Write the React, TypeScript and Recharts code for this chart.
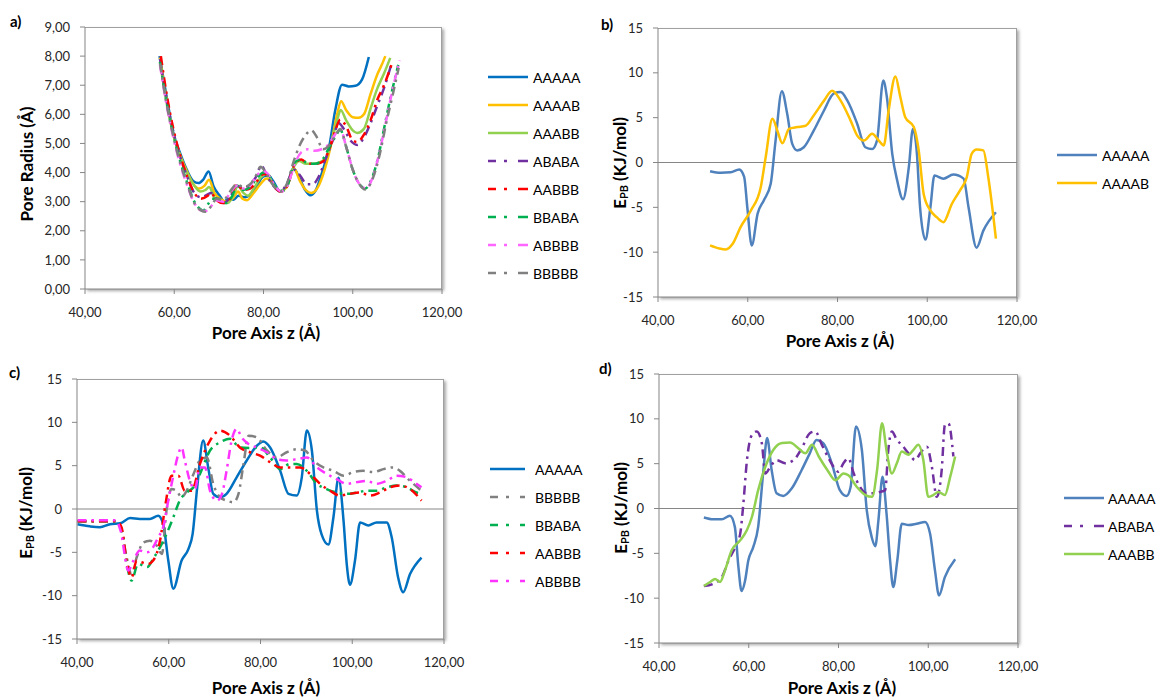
import React from 'react';
import { LineChart, Line, XAxis, YAxis, ReferenceLine } from 'recharts';

type P = [number, number][];

// ---------- tick values ----------
const X_TICKS = [40, 60, 80, 100, 120];
const A_Y_TICKS = [0, 1, 2, 3, 4, 5, 6, 7, 8, 9];
const E_Y_TICKS = [-15, -10, -5, 0, 5, 10, 15];

// ---------- panel a: pore radius ----------
const A_AAAAA: P = [[56.7,8.0],[58.3,6.6],[59.8,5.36],[61.3,4.67],[62.8,4.1],[64.3,3.7],[65.4,3.64],[66.5,3.76],[67.7,4.04],[68.8,3.53],[70.3,3.18],[71.2,3.0],[72.1,3.1],[73.3,3.07],[74.4,3.2],[75.9,3.15],[77.8,3.35],[80.0,3.87],[81.1,3.9],[82.2,3.7],[83.7,3.36],[85.2,3.53],[86.7,4.16],[87.9,3.87],[89.3,3.41],[90.5,3.22],[91.6,3.36],[93.1,3.99],[94.6,4.79],[96.1,6.16],[97.6,7.02],[99.1,6.96],[100.6,6.98],[102.1,7.2],[103.6,7.97]];
const A_AAAAB: P = [[56.8,7.95],[58.3,6.5],[59.8,5.3],[61.3,4.6],[62.8,4.05],[64.3,3.6],[65.6,3.45],[66.8,3.55],[67.8,3.75],[69.0,3.3],[70.3,3.1],[71.8,3.0],[73.3,3.15],[74.3,3.35],[75.3,3.1],[76.3,3.05],[77.8,3.3],[79.3,3.6],[80.7,3.8],[82.2,3.6],[83.7,3.35],[85.2,3.5],[86.8,4.15],[88.2,3.7],[89.5,3.4],[90.7,3.3],[92.2,3.5],[93.7,4.1],[95.2,5.0],[96.5,6.0],[97.4,6.45],[98.5,6.15],[100.0,5.9],[101.3,5.88],[102.5,6.0],[104.0,6.7],[105.5,7.37],[106.5,7.7],[107.3,8.0]];
const A_AAABB: P = [[56.8,7.8],[58.3,6.4],[59.8,5.3],[61.3,4.55],[62.8,4.0],[64.5,3.55],[65.8,3.35],[67.0,3.4],[67.8,3.5],[69.0,3.15],[70.5,3.0],[72.0,2.95],[73.5,3.3],[74.2,3.55],[75.5,3.3],[76.5,3.2],[78.0,3.5],[79.5,3.85],[80.7,3.95],[82.2,3.6],[83.7,3.35],[85.2,3.55],[86.8,4.2],[88.0,4.4],[89.5,4.3],[91.0,4.3],[92.5,4.35],[94.0,4.5],[95.5,5.2],[96.5,5.8],[97.3,6.15],[98.5,5.8],[100.0,5.45],[101.0,5.36],[102.5,5.5],[104.0,6.2],[105.4,6.85],[107.0,7.4],[108.4,7.94]];
const A_ABABA: P = [[56.8,7.9],[58.3,6.5],[59.8,5.4],[61.3,4.55],[62.8,3.9],[64.5,3.3],[66.0,3.15],[67.5,3.25],[68.2,3.3],[69.5,3.1],[71.0,2.95],[72.5,3.15],[74.0,3.55],[75.5,3.45],[77.0,3.6],[78.5,3.9],[79.5,4.25],[80.7,3.9],[82.2,3.55],[83.7,3.35],[85.2,3.6],[86.8,4.1],[88.2,3.9],[89.7,3.6],[91.0,3.6],[92.5,3.9],[94.0,4.5],[95.5,5.1],[96.8,5.7],[98.0,5.5],[99.5,5.1],[101.0,4.95],[102.5,5.2],[104.0,5.7],[105.5,6.3],[107.0,6.9],[108.8,7.8]];
const A_AABBB: P = [[57.0,8.0],[58.4,6.6],[59.8,5.5],[61.3,4.6],[62.8,3.9],[64.5,3.3],[66.0,3.1],[67.5,3.2],[68.2,3.3],[69.5,3.05],[71.0,2.95],[72.5,3.1],[74.0,3.6],[75.5,3.4],[77.0,3.45],[78.5,3.7],[80.0,3.95],[81.0,3.9],[82.5,3.5],[84.0,3.35],[85.5,3.6],[87.0,4.3],[88.5,4.45],[90.0,4.3],[91.5,4.3],[93.0,4.35],[94.5,4.7],[96.0,5.4],[97.2,5.82],[98.5,5.6],[100.0,5.1],[101.0,5.05],[102.5,5.3],[104.0,5.8],[105.5,6.5],[107.0,7.0],[109.0,7.85]];
const A_BBABA: P = [[56.8,7.8],[58.3,6.4],[59.8,5.3],[61.3,4.4],[62.8,3.7],[64.5,3.0],[65.8,2.75],[66.5,2.7],[67.5,2.9],[68.5,3.1],[70.0,3.1],[71.5,2.95],[73.0,3.2],[74.0,3.55],[75.5,3.4],[77.0,3.5],[78.5,3.8],[80.0,4.0],[81.0,3.95],[82.5,3.55],[84.0,3.35],[85.5,3.6],[87.0,4.35],[88.5,4.45],[90.0,4.3],[91.5,4.3],[93.0,4.4],[94.5,4.8],[96.0,5.2],[97.2,5.47],[98.5,4.9],[100.0,4.1],[101.5,3.6],[102.8,3.45],[104.0,3.7],[105.5,4.4],[107.0,5.5],[108.5,6.6],[110.2,7.7]];
const A_ABBBB: P = [[56.8,7.7],[58.3,6.3],[59.8,5.2],[61.3,4.3],[62.8,3.6],[64.5,2.95],[66.0,2.7],[67.0,2.68],[68.3,2.85],[69.5,3.05],[71.0,3.0],[72.5,3.3],[74.0,3.55],[75.5,3.45],[77.0,3.55],[78.5,3.9],[80.0,4.05],[81.0,3.95],[82.5,3.55],[84.0,3.35],[85.5,3.6],[87.0,4.3],[88.5,4.7],[90.0,4.8],[91.5,4.75],[93.0,4.8],[94.5,4.95],[96.0,5.3],[97.2,5.5],[98.5,4.9],[100.0,4.1],[101.5,3.6],[103.0,3.45],[104.5,3.85],[106.0,4.7],[107.5,5.8],[109.0,6.9],[110.5,7.85]];
const A_BBBBB: P = [[56.8,7.75],[58.3,6.35],[59.8,5.25],[61.3,4.35],[62.8,3.65],[64.5,2.95],[66.0,2.7],[67.0,2.65],[68.3,2.85],[69.5,3.1],[71.0,3.05],[72.5,3.35],[74.0,3.6],[75.5,3.5],[77.0,3.6],[78.5,3.95],[79.3,4.2],[80.5,4.0],[82.0,3.6],[83.7,3.35],[85.2,3.6],[86.8,4.4],[88.0,4.9],[89.5,5.3],[90.7,5.45],[92.0,5.2],[93.3,4.8],[94.5,4.9],[96.0,5.25],[97.2,5.5],[98.5,4.9],[100.0,4.1],[101.5,3.6],[102.8,3.42],[104.5,3.8],[106.0,4.6],[107.5,5.7],[109.0,6.7],[110.3,7.6]];

// ---------- panel b ----------
const B_AAAAA: P = [[51.6,-0.97],[54.0,-1.15],[56.2,-1.1],[58.1,-0.78],[59.2,-1.6],[59.9,-5.0],[60.9,-9.25],[62.2,-5.7],[63.6,-4.2],[65.1,-2.4],[66.2,2.45],[67.6,7.95],[68.8,5.4],[69.9,2.1],[71.0,1.35],[72.5,1.7],[74.7,3.55],[77.0,5.8],[79.2,7.7],[80.7,7.85],[82.2,6.9],[84.4,4.3],[86.2,1.7],[87.7,1.5],[88.8,2.45],[90.2,9.15],[91.0,7.3],[92.2,0.97],[93.3,-2.0],[94.6,-4.1],[95.9,-0.5],[96.8,3.75],[97.7,0.97],[98.4,-5.0],[99.6,-8.6],[100.7,-5.0],[101.6,-1.45],[103.6,-1.8],[105.8,-1.35],[108.1,-1.8],[109.2,-5.0],[111.0,-9.5],[112.5,-7.6],[115.3,-5.55]];
const B_AAAAB: P = [[51.6,-9.25],[53.7,-9.6],[55.1,-9.7],[56.6,-9.1],[58.4,-7.2],[60.7,-5.35],[62.9,-2.75],[64.0,0.6],[65.5,4.87],[66.6,3.55],[67.7,2.15],[69.2,3.75],[71.0,3.95],[72.9,4.1],[74.7,5.25],[77.0,6.9],[78.8,8.0],[80.7,6.9],[82.9,4.7],[84.4,3.0],[85.9,2.45],[87.7,3.2],[89.2,2.45],[90.3,1.9],[91.4,5.8],[92.9,9.6],[94.0,7.3],[95.1,5.05],[97.0,3.95],[98.1,1.35],[99.2,-3.5],[100.7,-5.35],[102.1,-6.1],[103.6,-6.65],[105.5,-4.6],[107.3,-3.1],[108.8,-1.65],[109.9,0.97],[111.0,1.45],[112.5,1.35],[113.6,-1.65],[115.3,-8.5]];

// ---------- panel c ----------
const C_AAAAA: P = [[40.1,-1.75],[42.8,-2.0],[45.0,-2.1],[47.2,-1.75],[49.4,-1.65],[51.6,-1.05],[53.7,-1.15],[55.9,-1.15],[57.7,-0.77],[58.8,-1.75],[59.9,-5.95],[61.0,-9.2],[62.8,-5.95],[64.3,-4.6],[65.2,-2.9],[66.2,2.5],[67.5,7.9],[68.6,4.8],[69.7,1.75],[71.2,1.35],[72.6,1.75],[74.8,3.65],[77.0,5.6],[79.2,7.3],[80.6,7.8],[82.1,7.1],[84.3,4.4],[86.1,1.75],[87.9,1.55],[89.0,3.65],[90.1,9.05],[91.2,6.75],[92.3,-0.2],[93.3,-2.9],[94.8,-4.1],[95.9,-0.95],[97.0,3.6],[98.1,-1.35],[98.8,-6.35],[99.5,-8.75],[100.6,-5.95],[101.7,-1.55],[103.5,-1.9],[105.3,-1.55],[107.5,-1.55],[108.6,-3.25],[110.0,-7.9],[111.1,-9.6],[112.6,-7.5],[115.1,-5.6]];
const C_BBBBB: P = [[40.1,-1.42],[45.0,-1.42],[48.6,-1.42],[49.7,-2.5],[50.8,-5.5],[51.9,-7.5],[53.0,-5.6],[54.5,-3.85],[55.9,-3.65],[57.4,-4.25],[58.5,-5.2],[59.5,-0.2],[60.6,2.3],[61.7,2.1],[62.8,1.35],[63.9,2.1],[65.4,4.05],[66.8,5.6],[68.3,5.95],[69.7,2.9],[71.2,1.35],[72.6,0.97],[74.1,0.77],[75.2,1.75],[76.3,5.2],[77.4,8.45],[79.2,8.25],[81.4,6.75],[83.6,5.95],[85.7,6.55],[87.9,6.9],[89.7,6.75],[91.5,5.6],[93.7,4.8],[95.9,4.4],[98.1,3.85],[100.2,4.25],[102.4,4.4],[104.6,4.25],[106.8,4.6],[108.9,4.8],[110.4,4.4],[112.2,3.45],[115.1,2.1]];
const C_BBABA: P = [[40.1,-1.42],[45.0,-1.42],[48.6,-1.42],[49.7,-2.3],[50.8,-6.2],[51.9,-8.25],[53.3,-6.35],[55.3,-6.7],[56.6,-5.75],[58.1,-4.4],[59.5,-2.9],[61.0,-0.95],[62.4,0.97],[63.9,1.9],[65.4,2.5],[66.8,4.05],[69.0,6.75],[71.2,7.7],[73.4,8.1],[75.5,7.1],[77.7,7.05],[79.9,7.1],[82.1,5.95],[84.3,4.6],[86.4,5.2],[87.9,5.2],[90.1,4.4],[92.3,2.9],[94.4,2.3],[96.6,1.9],[98.8,1.75],[101.0,1.9],[103.1,2.1],[105.3,2.1],[107.5,2.5],[109.7,2.7],[111.9,2.5],[114.0,1.9],[115.1,1.75]];
const C_AABBB: P = [[40.1,-1.42],[45.0,-1.42],[48.6,-1.42],[49.7,-2.1],[50.8,-5.95],[51.9,-7.9],[53.0,-5.95],[54.1,-6.15],[55.5,-6.35],[56.6,-5.95],[58.1,-3.65],[59.3,0.58],[60.6,3.85],[62.1,3.85],[63.5,2.1],[65.0,2.1],[66.8,5.2],[69.0,7.9],[71.2,9.05],[73.4,8.45],[75.5,7.1],[77.7,6.55],[79.9,6.15],[82.1,5.4],[84.3,4.8],[86.4,4.8],[88.6,4.8],[90.8,4.05],[93.0,2.9],[95.2,2.1],[97.3,1.55],[99.5,1.75],[101.7,1.9],[103.9,1.55],[106.0,1.9],[108.2,2.5],[110.4,2.7],[112.6,2.3],[115.1,0.97]];
const C_ABBBB: P = [[40.1,-1.3],[45.0,-1.3],[48.4,-1.3],[49.5,-2.5],[51.2,-7.1],[52.3,-5.95],[53.7,-4.8],[55.2,-5.0],[56.6,-4.4],[57.7,-3.25],[58.8,-2.1],[59.9,0.97],[61.0,3.85],[62.1,6.35],[62.8,7.1],[63.5,5.6],[64.6,3.25],[65.7,2.3],[66.8,4.8],[67.9,4.8],[69.0,2.1],[70.5,0.97],[71.6,1.75],[72.6,4.4],[73.7,7.9],[74.8,9.25],[75.9,8.25],[77.4,7.5],[79.2,7.1],[81.4,6.55],[83.6,5.75],[85.7,5.6],[87.9,5.75],[90.1,5.95],[92.3,4.8],[94.4,4.05],[96.6,3.45],[98.8,2.9],[101.0,3.1],[103.1,3.25],[105.3,2.9],[107.5,3.25],[109.7,3.85],[111.9,3.65],[114.0,2.9],[115.1,2.5]];

// ---------- panel d ----------
const D_AAAAA: P = [[50.0,-1.0],[52.1,-1.2],[54.0,-1.2],[55.8,-0.82],[56.9,-2.05],[57.7,-6.55],[58.4,-9.2],[59.2,-8.0],[59.9,-5.8],[61.0,-4.3],[62.1,-2.05],[63.2,3.9],[64.1,7.85],[65.1,4.3],[66.2,1.7],[67.7,1.4],[69.6,2.25],[71.8,4.3],[73.6,6.15],[75.1,7.65],[76.6,7.3],[78.5,5.05],[80.3,2.05],[81.8,1.4],[82.7,2.4],[83.9,9.15],[85.2,6.55],[86.3,-0.2],[87.4,-3.2],[88.2,-4.2],[88.9,-1.3],[89.8,3.55],[90.7,-0.55],[91.5,-5.8],[92.2,-8.75],[93.1,-5.8],[94.1,-1.7],[95.6,-1.85],[97.4,-1.7],[99.3,-1.5],[100.4,-2.8],[101.5,-6.9],[102.4,-9.7],[103.7,-7.65],[106.0,-5.65]];
const D_ABABA: P = [[50.0,-8.65],[52.1,-8.4],[54.0,-7.65],[55.5,-5.8],[57.0,-4.3],[58.1,-2.8],[58.8,0.55],[59.6,5.4],[60.7,8.2],[61.8,8.6],[62.9,7.3],[63.7,3.9],[64.8,4.65],[66.2,5.4],[68.1,5.05],[70.0,5.4],[71.8,6.7],[73.6,8.4],[74.8,8.6],[76.3,7.1],[77.8,5.6],[78.9,4.65],[80.0,4.1],[81.1,5.05],[82.2,5.6],[83.4,3.9],[84.8,2.4],[86.3,1.7],[87.8,1.7],[89.3,1.85],[90.4,2.05],[91.1,6.55],[91.9,8.6],[93.0,7.65],[94.1,7.1],[95.6,6.15],[97.1,5.4],[98.2,6.15],[99.7,6.9],[100.8,4.65],[101.9,1.3],[103.0,4.3],[103.7,9.3],[104.5,9.5],[105.6,5.8]];
const D_AAABB: P = [[50.0,-8.65],[51.4,-8.2],[52.5,-7.85],[53.6,-8.2],[54.7,-6.9],[56.2,-4.65],[58.1,-3.55],[59.6,-2.4],[60.7,-0.95],[62.1,2.05],[63.7,4.65],[65.5,6.55],[67.4,7.3],[69.2,7.35],[71.1,6.7],[72.6,6.15],[74.1,7.1],[75.6,5.8],[77.5,4.3],[79.3,3.15],[81.1,3.9],[82.2,3.7],[84.1,2.4],[86.0,1.5],[87.5,1.3],[88.6,4.3],[89.7,9.5],[90.8,6.15],[91.9,3.9],[93.0,5.05],[94.1,6.35],[95.6,6.0],[96.7,6.55],[97.8,7.1],[98.9,5.4],[100.0,1.3],[101.1,1.5],[102.3,1.85],[103.7,1.5],[104.9,3.55],[106.0,5.8]];

// ---------- styling ----------
const FONT = "Lato, 'Liberation Sans', Arial, sans-serif";
const AXIS = '#868686';
const TICK_FILL = '#262626';
const DASH = '9 5 2.5 5';
const LEG_DASH = '8 8 3 11 12';

type Series = { name: string; data: P; color: string; dashed: boolean };

const SERIES_A: Series[] = [
  { name: 'AAAAA', data: A_AAAAA, color: '#0070C0', dashed: false },
  { name: 'AAAAB', data: A_AAAAB, color: '#FFC000', dashed: false },
  { name: 'AAABB', data: A_AAABB, color: '#92D050', dashed: false },
  { name: 'ABABA', data: A_ABABA, color: '#7030A0', dashed: true },
  { name: 'AABBB', data: A_AABBB, color: '#FF0000', dashed: true },
  { name: 'BBABA', data: A_BBABA, color: '#00B050', dashed: true },
  { name: 'ABBBB', data: A_ABBBB, color: '#FF66FF', dashed: true },
  { name: 'BBBBB', data: A_BBBBB, color: '#808080', dashed: true },
];
const SERIES_B: Series[] = [
  { name: 'AAAAA', data: B_AAAAA, color: '#4F81BD', dashed: false },
  { name: 'AAAAB', data: B_AAAAB, color: '#FFC000', dashed: false },
];
const SERIES_C: Series[] = [
  { name: 'AAAAA', data: C_AAAAA, color: '#0070C0', dashed: false },
  { name: 'BBBBB', data: C_BBBBB, color: '#808080', dashed: true },
  { name: 'BBABA', data: C_BBABA, color: '#00B050', dashed: true },
  { name: 'AABBB', data: C_AABBB, color: '#FF0000', dashed: true },
  { name: 'ABBBB', data: C_ABBBB, color: '#FF33FF', dashed: true },
];
const SERIES_D: Series[] = [
  { name: 'AAAAA', data: D_AAAAA, color: '#4F81BD', dashed: false },
  { name: 'ABABA', data: D_ABABA, color: '#7030A0', dashed: true },
  { name: 'AAABB', data: D_AAABB, color: '#92D050', dashed: false },
];

const fmt2 = (v: number) => v.toFixed(2).replace('.', ',');
const fmtInt = (v: number) => String(v);
const toPts = (d: P) => d.map(([x, y]) => ({ x, y }));

type PanelProps = {
  left: number; top: number; w: number; h: number;
  margin: { top: number; right: number; bottom: number; left: number };
  yWidth: number; yDomain: [number, number]; yTicks: number[];
  yFmt: (v: number) => string; series: Series[]; zero: boolean;
};

function Panel(p: PanelProps) {
  const plotLeft = p.left + p.margin.left + p.yWidth;
  const plotTop = p.top + p.margin.top;
  const plotW = p.w - p.margin.left - p.margin.right - p.yWidth;
  const plotH = p.h - p.margin.top - p.margin.bottom - 40;
  return (
    <>
      <div
        style={{
          position: 'absolute', left: plotLeft, top: plotTop, width: plotW, height: plotH,
          boxSizing: 'border-box', borderTop: '1px solid #a0a0a0', borderRight: '1px solid #a0a0a0',
          boxShadow: '2px 2px 3px rgba(0,0,0,0.35)',
        }}
      />
      <div style={{ position: 'absolute', left: p.left, top: p.top }}>
        <LineChart width={p.w} height={p.h} margin={p.margin}>
          <XAxis
            type="number" dataKey="x" domain={[40, 120]} ticks={X_TICKS} interval={0}
            tickFormatter={fmt2} allowDataOverflow height={40} tickSize={5} tickMargin={14}
            stroke={AXIS} tick={{ fill: TICK_FILL, fontSize: 13, fontFamily: FONT }}
          />
          <YAxis
            type="number" domain={p.yDomain} ticks={p.yTicks} interval={0}
            tickFormatter={p.yFmt} allowDataOverflow width={p.yWidth} tickSize={5} tickMargin={10}
            stroke={AXIS} tick={{ fill: TICK_FILL, fontSize: 13, fontFamily: FONT }}
          />
          {p.zero && <ReferenceLine y={0} stroke={AXIS} strokeWidth={1} />}
          {p.series.map((s) => (
            <Line
              key={s.name} data={toPts(s.data)} dataKey="y" name={s.name} type="monotone"
              stroke={s.color} strokeWidth={2.5} strokeDasharray={s.dashed ? DASH : undefined}
              dot={false} activeDot={false} isAnimationActive={false}
            />
          ))}
        </LineChart>
      </div>
    </>
  );
}

function Legend({ series, x1, x2, tx, ys }: { series: Series[]; x1: number; x2: number; tx: number; ys: number[] }) {
  return (
    <g>
      {series.map((s, i) => (
        <g key={s.name}>
          <line x1={x1} x2={x2} y1={ys[i]} y2={ys[i]} stroke={s.color} strokeWidth={2.5}
            strokeDasharray={s.dashed ? LEG_DASH : undefined} />
          <text x={tx} y={ys[i]} dominantBaseline="central" fontSize={14} fontFamily={FONT} fill="#000">{s.name}</text>
        </g>
      ))}
    </g>
  );
}

function EpbTitle({ x, y }: { x: number; y: number }) {
  return (
    <text x={x} y={y} transform={`rotate(-90 ${x} ${y})`} textAnchor="middle" dominantBaseline="central"
      fontSize={17} fontWeight="bold" fontFamily={FONT} fill="#000">
      E<tspan fontSize={11} dy={4}>PB</tspan><tspan dy={-4}> (KJ/mol)</tspan>
    </text>
  );
}

function XTitle({ x, y }: { x: number; y: number }) {
  return (
    <text x={x} y={y} textAnchor="middle" fontSize={17} fontWeight="bold" fontFamily={FONT} fill="#000">
      Pore Axis z (Å)
    </text>
  );
}

export default function App() {
  return (
    <div style={{ position: 'absolute', left: 0, top: 0, width: 1157, height: 700, background: '#fff', overflow: 'hidden' }}>
      <Panel left={0} top={0} w={470} h={350} margin={{ top: 27, right: 28, bottom: 21, left: 0 }}
        yWidth={85} yDomain={[0, 9]} yTicks={A_Y_TICKS} yFmt={fmt2} series={SERIES_A} zero={false} />
      <Panel left={580} top={0} w={470} h={350} margin={{ top: 28, right: 33, bottom: 13, left: 0 }}
        yWidth={78} yDomain={[-15, 15]} yTicks={E_Y_TICKS} yFmt={fmtInt} series={SERIES_B} zero />
      <Panel left={0} top={360} w={470} h={340} margin={{ top: 19, right: 26, bottom: 21, left: 0 }}
        yWidth={77} yDomain={[-15, 15]} yTicks={E_Y_TICKS} yFmt={fmtInt} series={SERIES_C} zero />
      <Panel left={580} top={360} w={470} h={340} margin={{ top: 14, right: 32, bottom: 17, left: 0 }}
        yWidth={79} yDomain={[-15, 15]} yTicks={E_Y_TICKS} yFmt={fmtInt} series={SERIES_D} zero />

      <svg width={1157} height={700} style={{ position: 'absolute', left: 0, top: 0, pointerEvents: 'none' }}>
        <g fontFamily={FONT} fontWeight="bold" fontSize={15} fill="#000">
          <text x={10} y={27}>a)</text>
          <text x={601} y={30}>b)</text>
          <text x={9} y={378}>c)</text>
          <text x={599} y={374}>d)</text>
        </g>
        <text x={26} y={164} transform="rotate(-90 26 164)" textAnchor="middle" dominantBaseline="central"
          fontSize={17} fontWeight="bold" fontFamily={FONT} fill="#000">Pore Radius (Å)</text>
        <EpbTitle x={619} y={163} />
        <EpbTitle x={25} y={513} />
        <EpbTitle x={620} y={508} />
        <XTitle x={266} y={339} />
        <XTitle x={840} y={347} />
        <XTitle x={266} y={694} />
        <XTitle x={842} y={694} />

        <Legend series={SERIES_A} x1={488} x2={528} tx={533} ys={[77, 105, 133, 161, 189, 217, 245, 273]} />
        <Legend series={SERIES_B} x1={1057} x2={1097} tx={1102} ys={[155, 183]} />
        <Legend series={SERIES_C} x1={490} x2={525} tx={535} ys={[469, 497, 525, 553, 581]} />
        <Legend series={SERIES_D} x1={1064} x2={1104} tx={1108} ys={[498, 526, 554]} />
      </svg>
    </div>
  );
}
